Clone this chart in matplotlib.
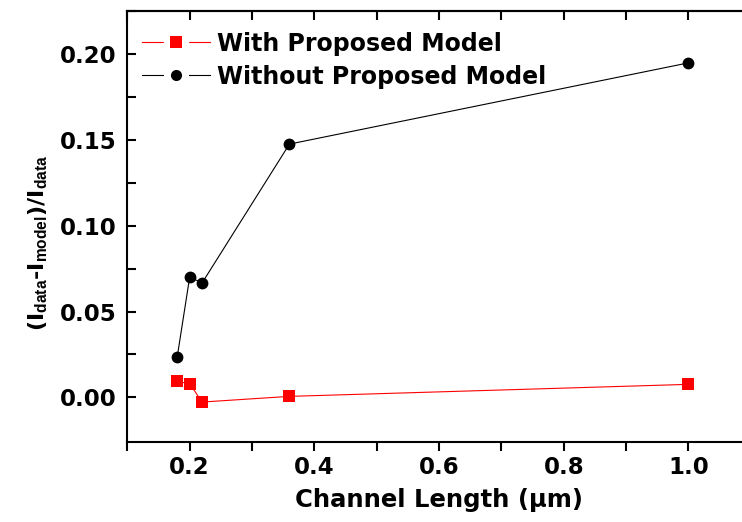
import numpy as np
import matplotlib
matplotlib.use("Agg")
import matplotlib.pyplot as plt
from matplotlib.lines import Line2D
from matplotlib.legend_handler import HandlerTuple

# data
channel_length = [0.18, 0.20, 0.22, 0.36, 1.0]
with_model = [0.0093, 0.0080, -0.0027, 0.0006, 0.0076]
without_model = [0.0235, 0.0700, 0.0667, 0.1475, 0.1948]
series_names = ['With Proposed Model', 'Without Proposed Model']

x_major = [0.2, 0.4, 0.6, 0.8, 1.0]
y_major = [0.00, 0.05, 0.10, 0.15, 0.20]

plt.rcParams['font.family'] = 'DejaVu Sans'
plt.rcParams['font.weight'] = 'bold'
# subscripts in a plain, narrower face
plt.rcParams['mathtext.fontset'] = 'custom'
plt.rcParams['mathtext.rm'] = 'Liberation Sans'

fig = plt.figure(figsize=(7.42, 5.22), dpi=100)
ax = fig.add_axes([0.1716, 0.1538, 0.8402, 0.8251])

ax.plot(channel_length, with_model, color='red', linewidth=0.8,
        marker='s', markersize=8, markeredgewidth=0)
ax.plot(channel_length, without_model, color='black', linewidth=0.8,
        marker='o', markersize=8.5, markeredgewidth=0)

ax.set_xlim(0.1, 1.1)
ax.set_ylim(-0.0258, 0.2246)

ax.set_xticks(x_major)
ax.set_xticklabels([f"{v:.1f}" for v in x_major])
ax.set_xticks(np.arange(0.1, 1.11, 0.1), minor=True)
ax.set_yticks(y_major)
ax.set_yticklabels([f"{v:.2f}" for v in y_major])
ax.set_yticks(np.arange(0.0, 0.226, 0.025), minor=True)

for side in ax.spines:
    ax.spines[side].set_linewidth(1.5)

# left/top/right ticks point in, bottom ticks point out
ax.tick_params(axis='both', which='both', labelsize=16.5, width=1.5,
               length=6.5, right=True)
ax.tick_params(axis='y', which='both', direction='in', pad=8)
ax.tick_params(axis='x', which='both', direction='out', pad=4, top=False)

top = ax.secondary_xaxis('top')
top.set_xticks(x_major)
top.set_xticks(np.arange(0.1, 1.11, 0.1), minor=True)
top.tick_params(axis='x', which='both', direction='in', length=6.5, width=1.5,
                labeltop=False)
top.spines['top'].set_linewidth(1.5)

ax.set_xlabel('Channel Length (μm)', fontsize=17.5, fontweight='bold', labelpad=6)
ax.set_ylabel(r'(I$_{\mathrm{data}}$-I$_{\mathrm{model}}$)/I$_{\mathrm{data}}$',
              fontsize=16, fontweight='bold')
ax.yaxis.set_label_coords(-0.124, 0.4625)

# legend handles: line broken by a white gap around the marker
handles = []
for col, mk, ms in [('red', 's', 8), ('black', 'o', 8)]:
    gap = Line2D([], [], color=col, linewidth=0.8, marker=mk, markersize=17,
                 markerfacecolor='white', markeredgecolor='white')
    dot = Line2D([], [], linestyle='none', marker=mk, markersize=ms,
                 color=col, markeredgewidth=0)
    handles.append((gap, dot))

ax.legend(handles, series_names, handler_map={tuple: HandlerTuple(ndivide=1, pad=0)},
          loc='upper left', bbox_to_anchor=(0.023, 0.952), frameon=False,
          fontsize=17, handlelength=2.9, handletextpad=0.3,
          labelspacing=0.38, borderpad=0, borderaxespad=0)

fig.savefig('out.png', dpi=100)
